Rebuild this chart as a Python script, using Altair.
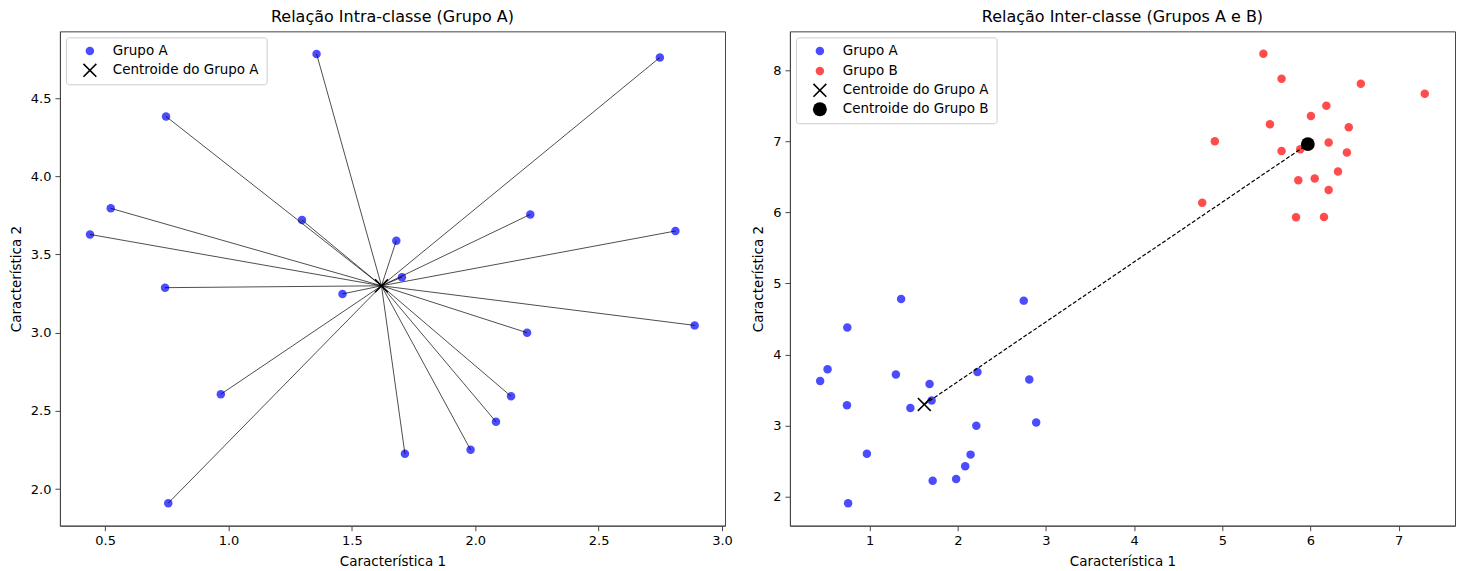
import altair as alt
import pandas as pd

# ---- data ----
a_x = [1.357, 2.748, 0.747, 0.523, 0.439, 1.298, 2.223, 1.680, 2.811, 1.703,
       0.743, 1.462, 2.210, 2.889, 0.969, 2.145, 2.084, 1.981, 1.715, 0.756]
a_y = [4.782, 4.759, 4.382, 3.795, 3.628, 3.720, 3.756, 3.588, 3.650, 3.355,
       3.288, 3.248, 3.000, 3.047, 2.607, 2.594, 2.431, 2.252, 2.226, 1.911]
b_x = [5.466, 5.672, 6.571, 7.296, 6.180, 6.005, 5.540, 6.434, 4.915, 6.206,
       5.672, 5.884, 6.413, 6.312, 6.048, 5.862, 6.206, 4.772, 5.836, 6.153]
b_y = [8.229, 7.879, 7.808, 7.668, 7.500, 7.355, 7.238, 7.196, 7.000, 6.981,
       6.864, 6.888, 6.841, 6.575, 6.477, 6.453, 6.313, 6.136, 5.930, 5.935]
centroid_a = [1.62, 3.30]
centroid_b = [5.97, 6.96]

labels = ["Grupo A", "Grupo B", "Centroide do Grupo A", "Centroide do Grupo B"]
left_ticks_x = [0.5, 1.0, 1.5, 2.0, 2.5, 3.0]
left_ticks_y = [2.0, 2.5, 3.0, 3.5, 4.0, 4.5]
right_ticks_x = [1, 2, 3, 4, 5, 6, 7]
right_ticks_y = [2, 3, 4, 5, 6, 7, 8]

FONT = "DejaVu Sans"
XPATH = ("M0,-0.16L0.84,-1L1,-0.84L0.16,0L1,0.84L0.84,1L0,0.16"
         "L-0.84,1L-1,0.84L-0.16,0L-1,-0.84L-0.84,-1Z")

style = {
    "Grupo A": ("blue", "circle", 72, 0.7),
    "Grupo B": ("red", "circle", 72, 0.7),
    "Centroide do Grupo A": ("black", XPATH, 196, 1.0),
    "Centroide do Grupo B": ("black", "circle", 193, 1.0),
}

W, H = 666, 495


def enc(dom):
    legend = alt.Legend(
        title=None, orient="top-left", offset=6, padding=7,
        symbolOffset=10, labelOffset=16, rowPadding=5,
        labelFont=FONT, labelFontSize=13.5, labelColor="black",
        fillColor="rgba(255,255,255,0.8)", strokeColor="#cccccc",
        cornerRadius=3, symbolStrokeWidth=0,
    )
    return dict(
        color=alt.Color("serie:N", scale=alt.Scale(type="ordinal", domain=dom,
                        range=[style[d][0] for d in dom]), legend=legend),
        shape=alt.Shape("serie:N", scale=alt.Scale(type="ordinal", domain=dom,
                        range=[style[d][1] for d in dom]), legend=legend),
        size=alt.Size("serie:N", scale=alt.Scale(type="ordinal", domain=dom,
                      range=[style[d][2] for d in dom]), legend=legend),
        opacity=alt.Opacity("serie:N", scale=alt.Scale(type="ordinal", domain=dom,
                            range=[style[d][3] for d in dom]), legend=legend),
    )


def axes(xdom, ydom, xt, yt, fmt):
    x = alt.X("x:Q", scale=alt.Scale(domain=xdom, nice=False, zero=False),
              axis=alt.Axis(values=xt, format=fmt, title="Característica 1"))
    y = alt.Y("y:Q", scale=alt.Scale(domain=ydom, nice=False, zero=False),
              axis=alt.Axis(values=yt, format=fmt, title="Característica 2"))
    return x, y


# ---- left panel ----
dfA = pd.DataFrame({"x": a_x, "y": a_y, "serie": "Grupo A"})
dfA_lines = pd.DataFrame({"x": a_x, "y": a_y, "cx": centroid_a[0], "cy": centroid_a[1]})
dfCA = pd.DataFrame({"x": [centroid_a[0]], "y": [centroid_a[1]], "serie": ["Centroide do Grupo A"]})

dom_l = ["Grupo A", "Centroide do Grupo A"]
xl, yl = axes([0.317, 3.012], [1.767, 4.926], left_ticks_x, left_ticks_y, ".1f")

pts_l = alt.Chart(dfA).mark_point(filled=True, strokeWidth=0).encode(x=xl, y=yl, **enc(dom_l))
lines_l = alt.Chart(dfA_lines).mark_rule(color="black", strokeWidth=0.7).encode(
    x="x:Q", y="y:Q", x2="cx:Q", y2="cy:Q")
cen_l = alt.Chart(dfCA).mark_point(filled=True, strokeWidth=0).encode(x=xl, y=yl, **enc(dom_l))

left = alt.layer(pts_l, lines_l, cen_l).properties(
    width=W, height=H,
    title=alt.TitleParams("Relação Intra-classe (Grupo A)", fontSize=16, font=FONT,
                          fontWeight="normal", color="black", offset=6))

# ---- right panel ----
dfAB = pd.concat([
    pd.DataFrame({"x": a_x, "y": a_y, "serie": "Grupo A"}),
    pd.DataFrame({"x": b_x, "y": b_y, "serie": "Grupo B"}),
])
dfC = pd.DataFrame({"x": [centroid_a[0], centroid_b[0]], "y": [centroid_a[1], centroid_b[1]],
                    "serie": ["Centroide do Grupo A", "Centroide do Grupo B"]})
dfLink = pd.DataFrame({"x": [centroid_a[0]], "y": [centroid_a[1]],
                       "x2": [centroid_b[0]], "y2": [centroid_b[1]]})

xr, yr = axes([0.096, 7.639], [1.595, 8.545], right_ticks_x, right_ticks_y, "d")
pts_r = alt.Chart(dfAB).mark_point(filled=True, strokeWidth=0).encode(x=xr, y=yr, **enc(labels))
cen_r = alt.Chart(dfC).mark_point(filled=True, strokeWidth=0).encode(x=xr, y=yr, **enc(labels))
link = alt.Chart(dfLink).mark_rule(color="black", strokeWidth=1.2, strokeDash=[4, 2]).encode(
    x="x:Q", y="y:Q", x2="x2:Q", y2="y2:Q")

right = alt.layer(pts_r, cen_r, link).properties(
    width=W, height=H,
    title=alt.TitleParams("Relação Inter-classe (Grupos A e B)", fontSize=16, font=FONT,
                          fontWeight="normal", color="black", offset=6))

chart = alt.hconcat(left, right, spacing=18).resolve_scale(
    x="independent", y="independent", color="independent", shape="independent",
    size="independent", opacity="independent").resolve_legend(
    color="independent", shape="independent", size="independent", opacity="independent"
).properties(padding=0).configure_view(
    stroke="#444444", strokeWidth=1
).configure_axis(
    grid=False, domainColor="#444444", domainWidth=1, tickColor="#444444", tickSize=5,
    tickWidth=1, labelFont=FONT, labelFontSize=13, labelColor="black", labelPadding=4,
    titleFont=FONT, titleFontSize=13.5, titleFontWeight="normal", titleColor="black",
    titlePadding=7,
)

chart.save("out.html", embed_options={"renderer": "svg", "actions": False})
